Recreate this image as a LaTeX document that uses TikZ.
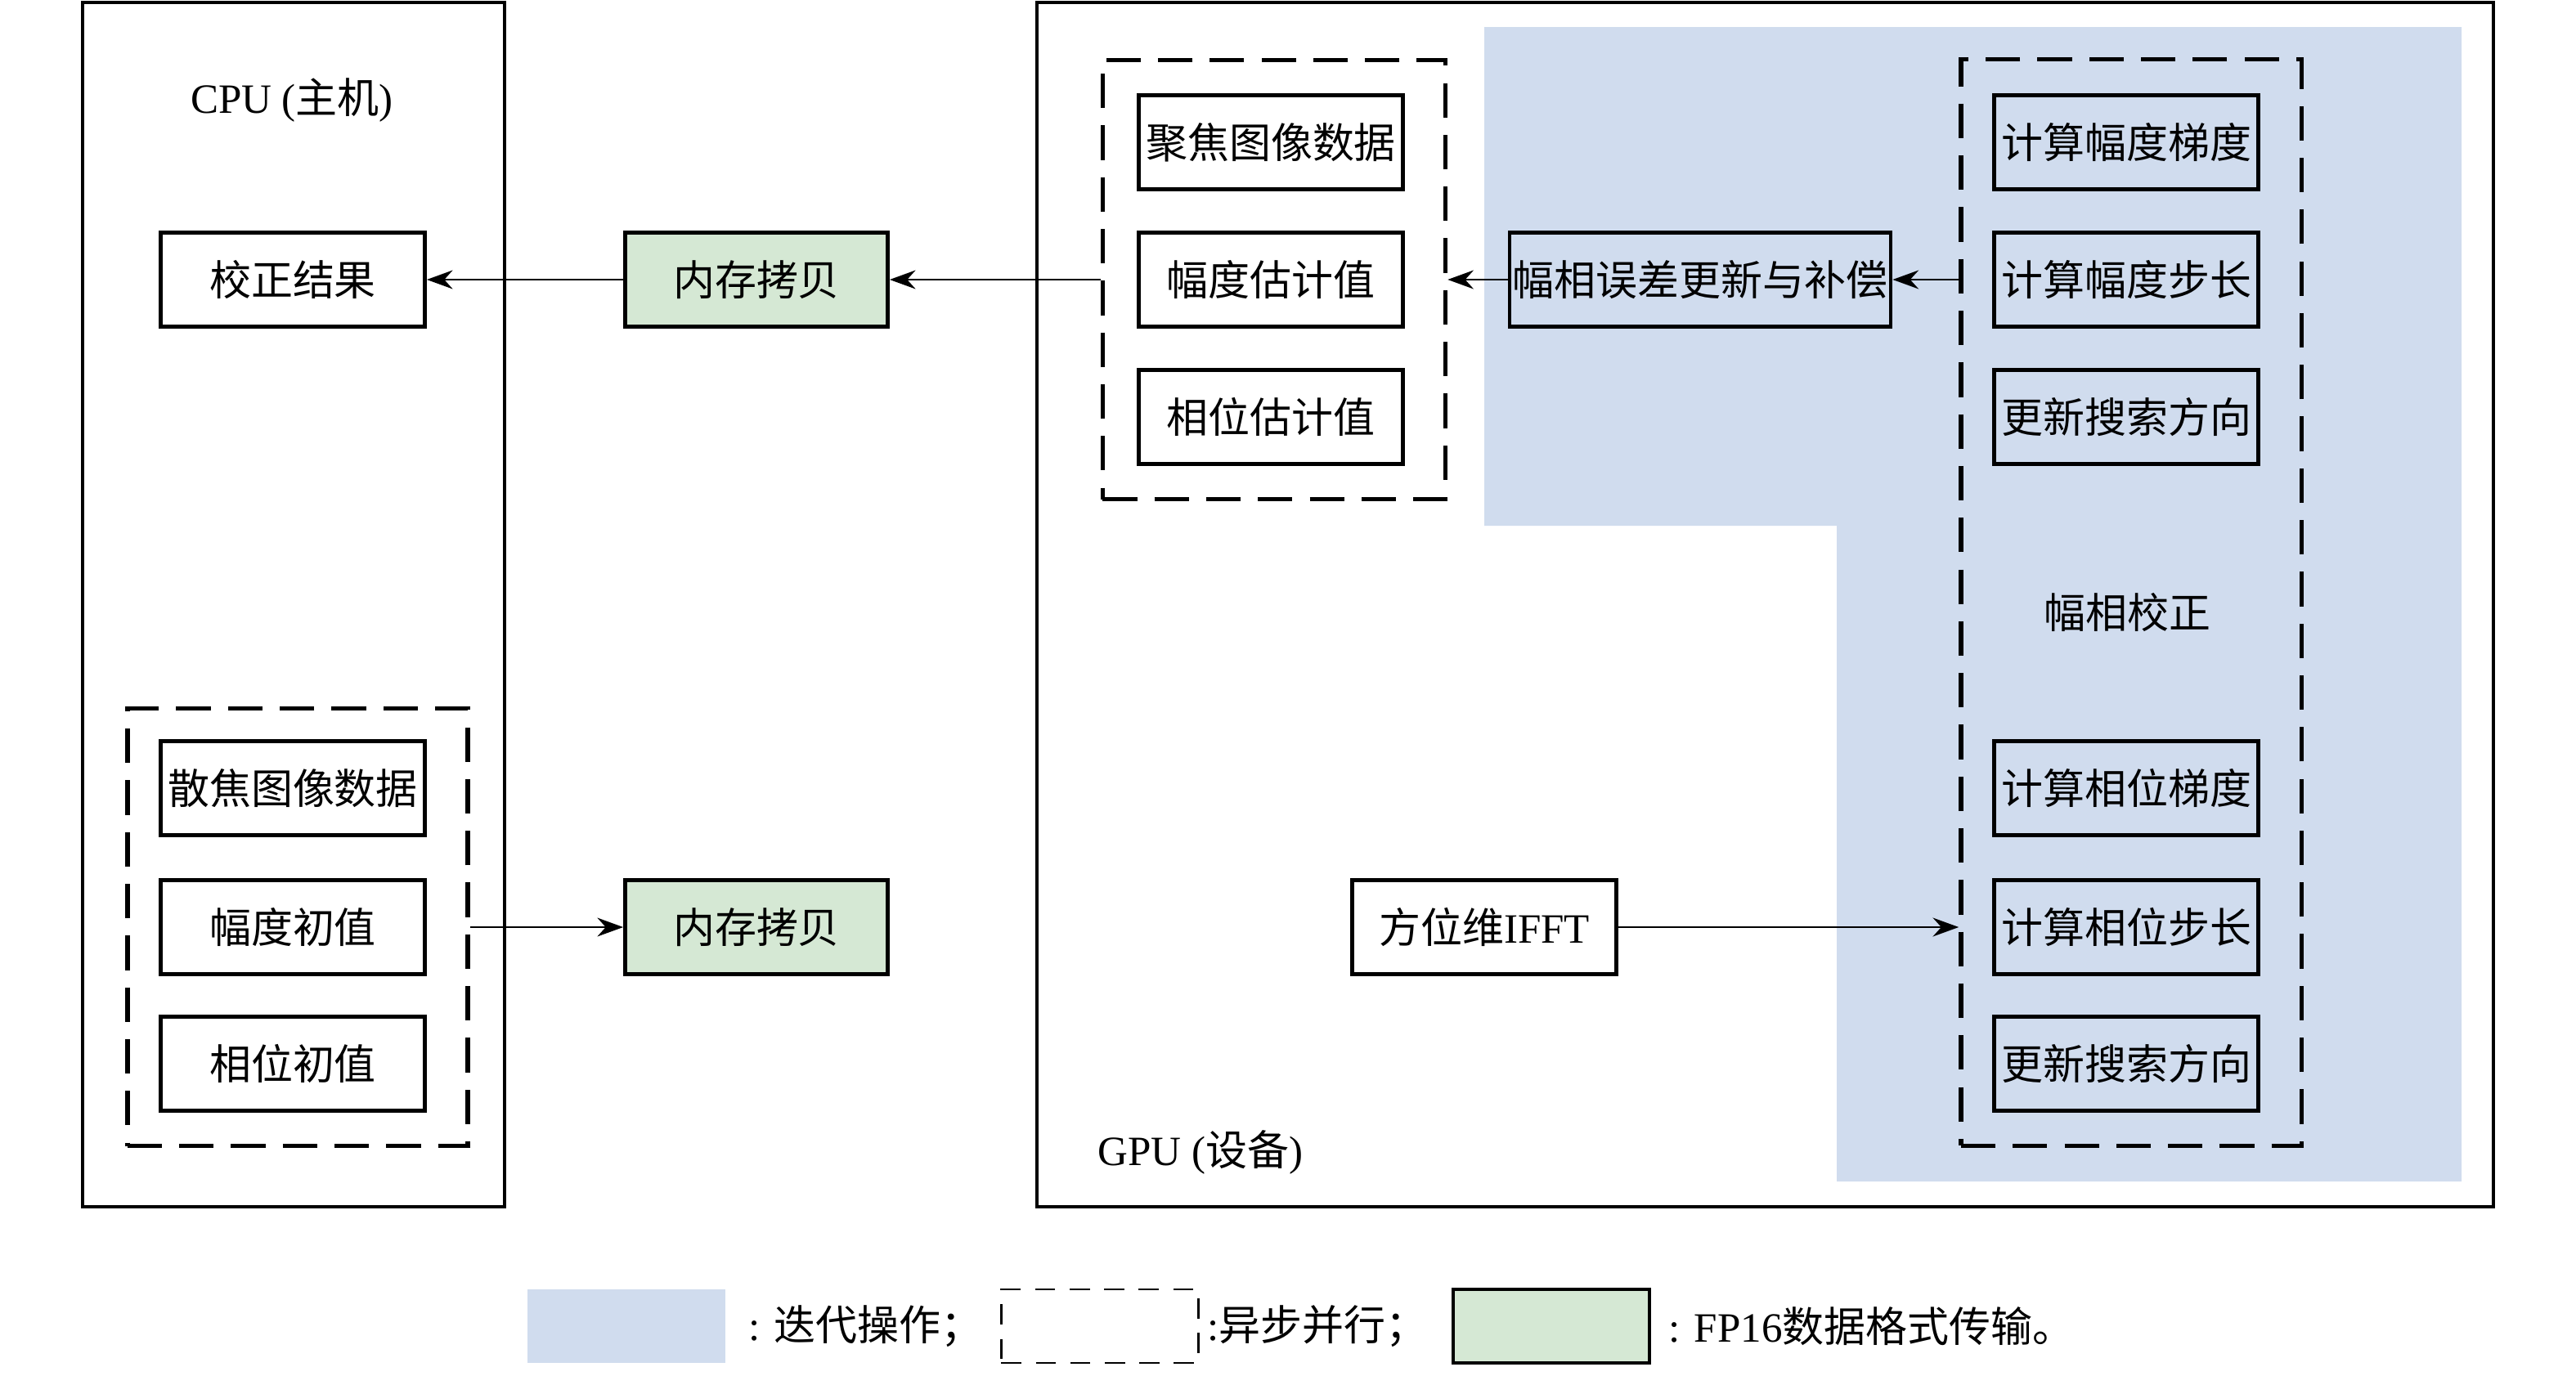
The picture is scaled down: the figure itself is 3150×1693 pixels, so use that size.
\documentclass[tikz,border=0pt]{standalone}
\usepackage{fontspec}
\setmainfont{Liberation Serif}
\newfontfamily\cjk{Noto Sans CJK SC}
\newcommand{\zh}[1]{{\cjk #1}}
\usetikzlibrary{arrows.meta}
\definecolor{iterblue}{RGB}{208,220,238}
\definecolor{fpgreen}{RGB}{213,232,212}

\begin{document}
\begin{tikzpicture}[x=0.01cm, y=-0.01cm,
  font=\fontsize{14.5}{17}\selectfont,
  opbox/.style={draw, line width=1.3pt, minimum width=3.23cm, minimum height=1.15cm, inner sep=1pt, font=\fontsize{14.5}{17}\selectfont\cjk},
  copybox/.style={opbox, fill=fpgreen, minimum width=3.21cm},
  asyncgroup/.style={draw, line width=1.5pt, dash pattern=on 12pt off 6pt, inner sep=0pt},
  hostframe/.style={draw, line width=1.4pt},
  link/.style={-{Stealth[length=9pt,width=6.5pt]}, line width=0.8pt}]
\useasboundingbox (0,0) rectangle (3150,1693);

% iteration area
\fill[iterblue] (1815,33) -- (3010,33) -- (3010,1445) -- (2246,1445) -- (2246,643) -- (1815,643) -- cycle;

% host and device
\draw[hostframe] (101,3) rectangle (617,1476);
\draw[hostframe] (1268,3) rectangle (3049,1476);
\node (cpulabel) at (357,123) {CPU (\zh{主机})};
\node[anchor=west] (gpulabel) at (1330,1409) {GPU (\zh{设备})};

% host side
\node[opbox] (result) at (358,342) {校正结果};
\node[asyncgroup, minimum width=4.16cm, minimum height=5.35cm] (hostgrp) at (364,1134) {};
\node[opbox] (defoc) at (358,964) {散焦图像数据};
\node[opbox] (ampinit) at (358,1134) {幅度初值};
\node[opbox] (phsinit) at (358,1301) {相位初值};

% copies
\node[copybox] (copyout) at (925,342) {内存拷贝};
\node[copybox] (copyin) at (925,1134) {内存拷贝};

% device side
\node[asyncgroup, minimum width=4.19cm, minimum height=5.37cm] (outgrp) at (1558,342) {};
\node[opbox] (focus) at (1554,174) {聚焦图像数据};
\node[opbox] (ampest) at (1554,342) {幅度估计值};
\node[opbox] (phsest) at (1554,510) {相位估计值};
\node[opbox, minimum width=4.66cm] (update) at (2079,342) {幅相误差更新与补偿};
\node[opbox, font=\fontsize{14.5}{17}\selectfont] (ifft) at (1815,1134) {\zh{方位维}IFFT};

\node[asyncgroup, minimum width=4.16cm, minimum height=13.28cm] (corrgrp) at (2606,737) {};
\node[opbox] (ampgrad) at (2600,174) {计算幅度梯度};
\node[opbox] (ampstep) at (2600,342) {计算幅度步长};
\node[opbox] (ampdir) at (2600,510) {更新搜索方向};
\node[font=\fontsize{14.5}{17}\selectfont\cjk] (corrlabel) at (2601,749) {幅相校正};
\node[opbox] (phsgrad) at (2600,964) {计算相位梯度};
\node[opbox] (phsstep) at (2600,1134) {计算相位步长};
\node[opbox] (phsdir) at (2600,1301) {更新搜索方向};

% data flow
\draw[link] (outgrp.west) -- (copyout.east);
\draw[link] (copyout.west) -- (result.east);
\draw[link] (update.west) -- (outgrp.east);
\draw[link] (update.east -| corrgrp.west) -- (update.east);
\draw[link] (hostgrp.east) -- (copyin.west);
\draw[link] (ifft.east) -- (ifft.east -| corrgrp.west);

% legend
\node[fill=iterblue, minimum width=2.41cm, minimum height=0.9cm, inner sep=0pt] (keyiter) at (766,1622) {};
\node[anchor=west, inner sep=0pt] (keyitertext) at (915,1622) {: \zh{迭代操作；}};
\node[draw, line width=0.8pt, dash pattern=on 7pt off 5pt, minimum width=2.41cm, minimum height=0.9cm, inner sep=0pt] (keyasync) at (1345,1622) {};
\node[anchor=west, inner sep=0pt] (keyasynctext) at (1476,1622) {:\zh{异步并行；}};
\node[draw, fill=fpgreen, line width=1.2pt, minimum width=2.4cm, minimum height=0.9cm, inner sep=0pt] (keyfp) at (1897,1622) {};
\node[anchor=west, inner sep=0pt] (keyfptext) at (2040,1622) {: FP16\zh{数据格式传输。}};
\end{tikzpicture}
\end{document}
